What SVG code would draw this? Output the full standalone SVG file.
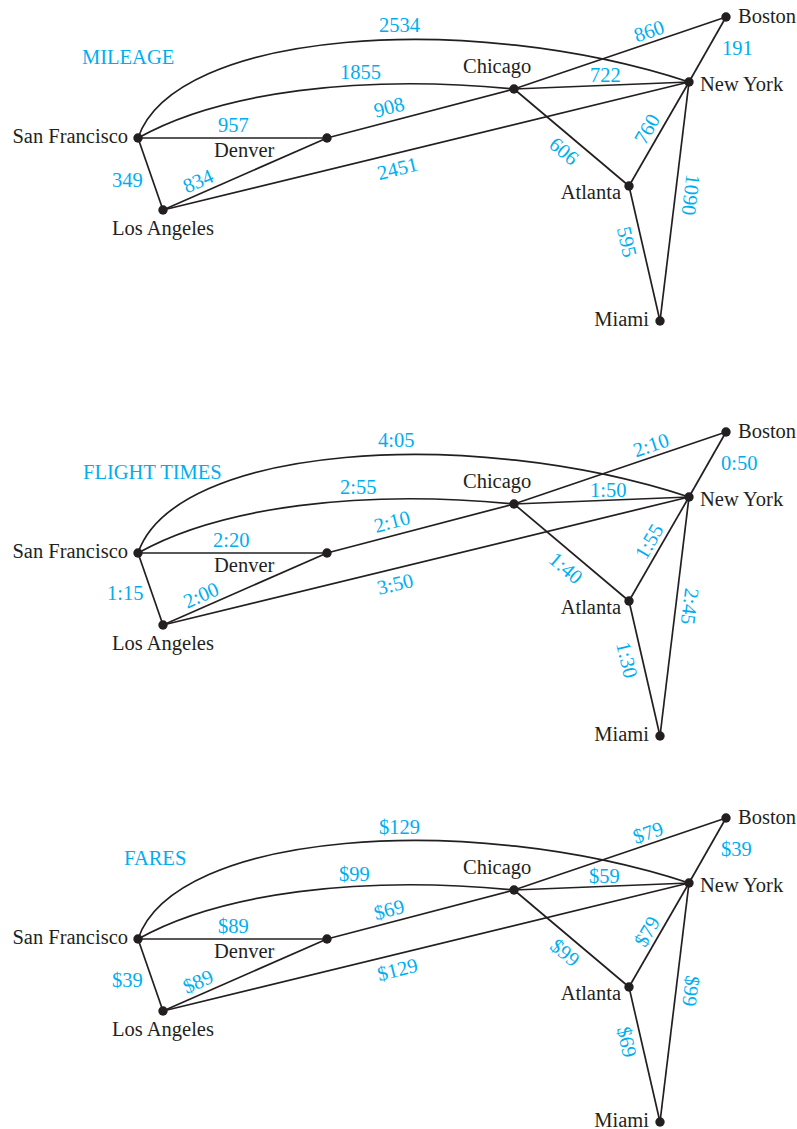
<svg xmlns="http://www.w3.org/2000/svg" width="797" height="1129" viewBox="0 0 797 1129">
<style>
.edge{stroke:#231f20;stroke-width:1.7;fill:none}
.dot{fill:#231f20}
.city{font-family:"Liberation Serif","Times New Roman",serif;font-size:20.5px;fill:#231f20}
.lbl{font-family:"Liberation Serif","Times New Roman",serif;font-size:20.5px;fill:#00aeef}
.mid{text-anchor:middle}
.end{text-anchor:end}
</style>
<rect width="797" height="1129" fill="#ffffff"/>

<!-- ===== MILEAGE ===== -->
<g id="mileage">
<text class="lbl" x="82" y="64">MILEAGE</text>
<g id="mileage-connectors">
<path class="edge" d="M138,138 C175,30 470,10 689,82"/>
<path class="edge" d="M138,138 C220,92 360,74 514,89"/>
<path class="edge" d="M138,138 L327,138"/>
<path class="edge" d="M138,138 L163,210"/>
<path class="edge" d="M163,210 L327,138"/>
<path class="edge" d="M163,210 L689,82"/>
<path class="edge" d="M327,138 L514,89"/>
<path class="edge" d="M514,89 L726,17"/>
<path class="edge" d="M514,89 L689,82"/>
<path class="edge" d="M514,89 L629,186"/>
<path class="edge" d="M689,82 L726,17"/>
<path class="edge" d="M689,82 L629,186"/>
<path class="edge" d="M689,82 L660,321"/>
<path class="edge" d="M629,186 L660,321"/>
<text class="lbl" x="379" y="32">2534</text>
<text class="lbl" x="340" y="79">1855</text>
<text class="lbl" x="218" y="132">957</text>
<text class="lbl" x="112" y="187">349</text>
<text class="lbl" x="590" y="82">722</text>
<text class="lbl" x="722" y="55">191</text>
<text class="lbl mid" transform="translate(389,107) rotate(-14.7)" y="7">908</text>
<text class="lbl mid" transform="translate(198,181) rotate(-23.7)" y="7">834</text>
<text class="lbl mid" transform="translate(397.5,168.5) rotate(-13.7)" y="7">2451</text>
<text class="lbl mid" transform="translate(649,31) rotate(-18.8)" y="7">860</text>
<text class="lbl mid" transform="translate(564,151) rotate(40.1)" y="7">606</text>
<text class="lbl mid" transform="translate(647,129) rotate(-60)" y="7">760</text>
<text class="lbl mid" transform="translate(691,195) rotate(96.9)" y="7">1090</text>
<text class="lbl mid" transform="translate(627,242) rotate(77.1)" y="7">595</text>
</g>
<g id="mileage-sf"><circle class="dot" cx="138" cy="138" r="4.7"/><text class="city end" x="128" y="143">San Francisco</text></g>
<g id="mileage-la"><circle class="dot" cx="163" cy="210" r="4.7"/><text class="city" x="112" y="235">Los Angeles</text></g>
<g id="mileage-denver"><circle class="dot" cx="327" cy="138" r="4.7"/><text class="city" x="214" y="157">Denver</text></g>
<g id="mileage-chicago"><circle class="dot" cx="514" cy="89" r="4.7"/><text class="city" x="463" y="73">Chicago</text></g>
<g id="mileage-boston"><circle class="dot" cx="726" cy="17" r="4.7"/><text class="city" x="738" y="23">Boston</text></g>
<g id="mileage-newyork"><circle class="dot" cx="689" cy="82" r="4.7"/><text class="city" x="700" y="91">New York</text></g>
<g id="mileage-atlanta"><circle class="dot" cx="629" cy="186" r="4.7"/><text class="city end" x="621" y="199">Atlanta</text></g>
<g id="mileage-miami"><circle class="dot" cx="660" cy="321" r="4.7"/><text class="city end" x="649" y="326">Miami</text></g>
</g>

<!-- ===== FLIGHT TIMES ===== -->
<g id="flight-times" transform="translate(0,415)">
<text class="lbl" x="83" y="64">FLIGHT TIMES</text>
<g id="flight-connectors">
<path class="edge" d="M138,138 C175,30 470,10 689,82"/>
<path class="edge" d="M138,138 C220,92 360,74 514,89"/>
<path class="edge" d="M138,138 L327,138"/>
<path class="edge" d="M138,138 L163,210"/>
<path class="edge" d="M163,210 L327,138"/>
<path class="edge" d="M163,210 L689,82"/>
<path class="edge" d="M327,138 L514,89"/>
<path class="edge" d="M514,89 L726,17"/>
<path class="edge" d="M514,89 L689,82"/>
<path class="edge" d="M514,89 L629,186"/>
<path class="edge" d="M689,82 L726,17"/>
<path class="edge" d="M689,82 L629,186"/>
<path class="edge" d="M689,82 L660,321"/>
<path class="edge" d="M629,186 L660,321"/>
<text class="lbl" x="378" y="32">4:05</text>
<text class="lbl" x="340" y="79">2:55</text>
<text class="lbl" x="213" y="132">2:20</text>
<text class="lbl" x="107" y="185">1:15</text>
<text class="lbl" x="590" y="82">1:50</text>
<text class="lbl" x="721" y="55">0:50</text>
<text class="lbl mid" transform="translate(392,106.5) rotate(-14.7)" y="7">2:10</text>
<text class="lbl mid" transform="translate(201,180) rotate(-23.7)" y="7">2:00</text>
<text class="lbl mid" transform="translate(395,169) rotate(-13.7)" y="7">3:50</text>
<text class="lbl mid" transform="translate(651,30) rotate(-18.8)" y="7">2:10</text>
<text class="lbl mid" transform="translate(566,153) rotate(40.1)" y="7">1:40</text>
<text class="lbl mid" transform="translate(649,126.5) rotate(-60)" y="7">1:55</text>
<text class="lbl mid" transform="translate(690,191.5) rotate(96.9)" y="7">2:45</text>
<text class="lbl mid" transform="translate(627,245) rotate(77.1)" y="7">1:30</text>
</g>
<g id="flight-sf"><circle class="dot" cx="138" cy="138" r="4.7"/><text class="city end" x="128" y="143">San Francisco</text></g>
<g id="flight-la"><circle class="dot" cx="163" cy="210" r="4.7"/><text class="city" x="112" y="235">Los Angeles</text></g>
<g id="flight-denver"><circle class="dot" cx="327" cy="138" r="4.7"/><text class="city" x="214" y="157">Denver</text></g>
<g id="flight-chicago"><circle class="dot" cx="514" cy="89" r="4.7"/><text class="city" x="463" y="73">Chicago</text></g>
<g id="flight-boston"><circle class="dot" cx="726" cy="17" r="4.7"/><text class="city" x="738" y="23">Boston</text></g>
<g id="flight-newyork"><circle class="dot" cx="689" cy="82" r="4.7"/><text class="city" x="700" y="91">New York</text></g>
<g id="flight-atlanta"><circle class="dot" cx="629" cy="186" r="4.7"/><text class="city end" x="621" y="199">Atlanta</text></g>
<g id="flight-miami"><circle class="dot" cx="660" cy="321" r="4.7"/><text class="city end" x="649" y="326">Miami</text></g>
</g>

<!-- ===== FARES ===== -->
<g id="fares" transform="translate(0,801)">
<text class="lbl" x="124" y="64">FARES</text>
<g id="fares-connectors">
<path class="edge" d="M138,138 C175,30 470,10 689,82"/>
<path class="edge" d="M138,138 C220,92 360,74 514,89"/>
<path class="edge" d="M138,138 L327,138"/>
<path class="edge" d="M138,138 L163,210"/>
<path class="edge" d="M163,210 L327,138"/>
<path class="edge" d="M163,210 L689,82"/>
<path class="edge" d="M327,138 L514,89"/>
<path class="edge" d="M514,89 L726,17"/>
<path class="edge" d="M514,89 L689,82"/>
<path class="edge" d="M514,89 L629,186"/>
<path class="edge" d="M689,82 L726,17"/>
<path class="edge" d="M689,82 L629,186"/>
<path class="edge" d="M689,82 L660,321"/>
<path class="edge" d="M629,186 L660,321"/>
<text class="lbl" x="379" y="33">$129</text>
<text class="lbl" x="339" y="80">$99</text>
<text class="lbl" x="218" y="132">$89</text>
<text class="lbl" x="112" y="186">$39</text>
<text class="lbl" x="589" y="82">$59</text>
<text class="lbl" x="721" y="55">$39</text>
<text class="lbl mid" transform="translate(389,108.5) rotate(-14.7)" y="7">$69</text>
<text class="lbl mid" transform="translate(198,180.5) rotate(-23.7)" y="7">$89</text>
<text class="lbl mid" transform="translate(397.5,168.5) rotate(-13.7)" y="7">$129</text>
<text class="lbl mid" transform="translate(648,31.5) rotate(-18.8)" y="7">$79</text>
<text class="lbl mid" transform="translate(565,151.5) rotate(40.1)" y="7">$99</text>
<text class="lbl mid" transform="translate(647,130.5) rotate(-60)" y="7">$79</text>
<text class="lbl mid" transform="translate(691,190) rotate(96.9)" y="7">$99</text>
<text class="lbl mid" transform="translate(627,241) rotate(77.1)" y="7">$69</text>
</g>
<g id="fares-sf"><circle class="dot" cx="138" cy="138" r="4.7"/><text class="city end" x="128" y="143">San Francisco</text></g>
<g id="fares-la"><circle class="dot" cx="163" cy="210" r="4.7"/><text class="city" x="112" y="235">Los Angeles</text></g>
<g id="fares-denver"><circle class="dot" cx="327" cy="138" r="4.7"/><text class="city" x="214" y="157">Denver</text></g>
<g id="fares-chicago"><circle class="dot" cx="514" cy="89" r="4.7"/><text class="city" x="463" y="73">Chicago</text></g>
<g id="fares-boston"><circle class="dot" cx="726" cy="17" r="4.7"/><text class="city" x="738" y="23">Boston</text></g>
<g id="fares-newyork"><circle class="dot" cx="689" cy="82" r="4.7"/><text class="city" x="700" y="91">New York</text></g>
<g id="fares-atlanta"><circle class="dot" cx="629" cy="186" r="4.7"/><text class="city end" x="621" y="199">Atlanta</text></g>
<g id="fares-miami"><circle class="dot" cx="660" cy="321" r="4.7"/><text class="city end" x="649" y="326">Miami</text></g>
</g>
</svg>
